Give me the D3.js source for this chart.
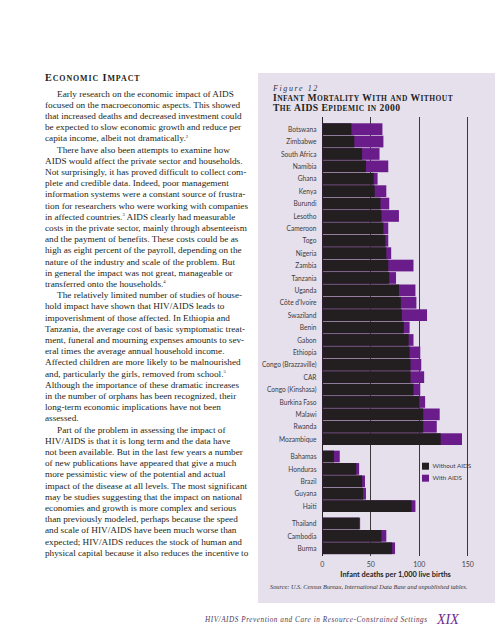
<!DOCTYPE html>
<html><head><meta charset="utf-8">
<script src="https://cdn.jsdelivr.net/npm/d3@7"></script>
<style>html,body{margin:0;padding:0;background:#fff;}svg{display:block;}</style>
</head><body>
<svg id="page" width="495" height="640"></svg>
<script>
// ---------------- DATA ----------------
const countries = ["Botswana","Zimbabwe","South Africa","Namibia","Ghana","Kenya","Burundi","Lesotho",
  "Cameroon","Togo","Nigeria","Zambia","Tanzania","Uganda","Côte d'Ivoire","Swaziland","Benin","Gabon",
  "Ethiopia","Congo (Brazzaville)","CAR","Congo (Kinshasa)","Burkina Faso","Malawi","Rwanda","Mozambique",
  "Bahamas","Honduras","Brazil","Guyana","Haiti",
  "Thailand","Cambodia","Burma"];
const groupSizes = [26, 5, 3];
const withoutAids = [30,33,41,45,53,54,60,61,63,65,66,68,69,79,81,82,84,89,90,91,91,94,100,104,104,122,
  12,35,41,42,92,
  38,61,72];
const withAids = [62,63,59,68,57,66,69,79,68,68,71,94,76,96,97,108,90,94,101,102,105,101,106,121,118,144,
  18,38,44,45,96,
  39,66,75];
const xTicks = [0, 50, 100, 150];
const seriesNames = ["Without AIDS", "With AIDS"];

// ---------------- STYLE ----------------
const C = {ink:"#231f20", purple:"#6a1c8b", panel:"#e6e0ed", grid:"#3a3a3a", label:"#3b3b3b", footer:"#4b3b5e", xix:"#6e2b8f"};
const SERIF = "'Liberation Serif','DejaVu Serif',serif";
const SANS = "Lato,'Liberation Sans','DejaVu Sans',sans-serif";

const svg = d3.select("#page");
svg.append("rect").attr("width",495).attr("height",640).attr("fill","#fff");

function smallCaps(textSel, str, size, ratio) {
  const runs = [];
  for (const ch of str) {
    const low = ch !== ch.toUpperCase();
    if (runs.length && runs[runs.length-1].low === low) runs[runs.length-1].s += ch;
    else runs.push({low, s: ch});
  }
  runs.forEach(r => textSel.append("tspan").attr("font-size", r.low ? size*ratio : size).text(r.low ? r.s.toUpperCase() : r.s));
}

// ---------------- LEFT TEXT COLUMN ----------------
const colX = 45, indent = 12, firstBase = 96.5, lineH = 11.2;
const header = svg.append("text").attr("x", colX).attr("y", 80.7).attr("font-family", SERIF)
  .attr("font-weight","bold").attr("fill", C.ink).attr("letter-spacing", 0.9);
smallCaps(header, "Economic Impact", 10.2, 0.78);

const bodyLines = [
  [1,"Early research on the economic impact of AIDS"],
  [0,"focused on the macroeconomic aspects. This showed"],
  [0,"that increased deaths and decreased investment could"],
  [0,"be expected to slow economic growth and reduce per"],
  [0,"capita income, albeit not dramatically.^2"],
  [1,"There have also been attempts to examine how"],
  [0,"AIDS would affect the private sector and households."],
  [0,"Not surprisingly, it has proved difficult to collect com-"],
  [0,"plete and credible data.  Indeed, poor management"],
  [0,"information systems were a constant source of frustra-"],
  [0,"tion for researchers who were working with companies"],
  [0,"in affected countries.^3 AIDS clearly had measurable"],
  [0,"costs in the private sector, mainly through absenteeism"],
  [0,"and the payment of benefits. These costs could be as"],
  [0,"high as eight percent of the payroll, depending on the"],
  [0,"nature of the industry and scale of the problem. But"],
  [0,"in general the impact was not great, manageable or"],
  [0,"transferred onto the households.^4"],
  [1,"The relatively limited number of studies of house-"],
  [0,"hold impact have shown that HIV/AIDS leads to"],
  [0,"impoverishment of those affected. In Ethiopia and"],
  [0,"Tanzania, the average cost of basic symptomatic treat-"],
  [0,"ment, funeral and mourning expenses amounts to sev-"],
  [0,"eral times the average annual household income."],
  [0,"Affected children are more likely to be malnourished"],
  [0,"and, particularly the girls, removed from school.^5"],
  [0,"Although the importance of these dramatic increases"],
  [0,"in the number of orphans has been recognized, their"],
  [0,"long-term economic implications have not been"],
  [0,"assessed."],
  [1,"Part of the problem in assessing the impact of"],
  [0,"HIV/AIDS is that it is long term and the data have"],
  [0,"not been available. But in the last few years a number"],
  [0,"of new publications have appeared that give a much"],
  [0,"more pessimistic view of the potential and actual"],
  [0,"impact of the disease at all levels. The most significant"],
  [0,"may be studies suggesting that the impact on national"],
  [0,"economies and growth is more complex and serious"],
  [0,"than previously modeled, perhaps because the speed"],
  [0,"and scale of HIV/AIDS have been much worse than"],
  [0,"expected; HIV/AIDS reduces the stock of human and"],
  [0,"physical capital because it also reduces the incentive to"]
];
const probe = svg.append("text").attr("font-family", SERIF).attr("font-size", 10).text("costs in the private sector, mainly through absenteeism");
const bodySize = 10 * 202 / probe.node().getComputedTextLength();
probe.remove();
const body = svg.append("g").attr("font-family", SERIF).attr("font-size", bodySize).attr("fill", C.ink);
bodyLines.forEach(([ind, s], i) => {
  const t = body.append("text").attr("x", colX + (ind ? indent : 0)).attr("y", firstBase + i*lineH);
  let raised = false;
  s.split(/(\^\d)/).forEach(part => {
    if (!part) return;
    if (/^\^\d$/.test(part)) {
      t.append("tspan").attr("font-size", bodySize*0.5).attr("dy", -3.5).text(part.slice(1));
      raised = true;
    } else {
      const sp = t.append("tspan").text(part);
      if (raised) { sp.attr("dy", 3.5); raised = false; }
    }
  });
});

// ---------------- CHART PANEL ----------------
svg.append("rect").attr("x", 258).attr("y", 73).attr("width", 237).attr("height", 530).attr("fill", C.panel);

svg.append("text").attr("x", 273).attr("y", 90.5).attr("font-family", SERIF).attr("font-style","italic")
  .attr("font-size", 8).attr("letter-spacing", 1.6).attr("fill", "#333").text("Figure 12");
const t1 = svg.append("text").attr("x", 273).attr("y", 100.7).attr("font-family", SERIF).attr("font-weight","bold")
  .attr("fill", C.ink).attr("letter-spacing", 0.45);
smallCaps(t1, "Infant Mortality With and Without", 9.6, 0.78);
const t2 = svg.append("text").attr("x", 273).attr("y", 110.7).attr("font-family", SERIF).attr("font-weight","bold")
  .attr("fill", C.ink).attr("letter-spacing", 0.45);
smallCaps(t2, "The AIDS Epidemic in 2000", 9.6, 0.78);

// scales
const x = d3.scaleLinear().domain([0, 150]).range([322.3, 467.8]);
const gapSlots = 0.4;
const groupOf = [];
groupSizes.forEach((n, g) => { for (let k = 0; k < n; k++) groupOf.push(g); });
const slotOf = countries.map((c, i) => i + groupOf[i] * gapSlots);
const totalSlots = countries.length + (groupSizes.length - 1) * gapSlots;
const y = d3.scaleLinear().domain([0, totalSlots]).range([123.3, 123.3 + totalSlots * 12.4]);
const rowH = y(1) - y(0);

const chart = svg.append("g");
chart.append("g").selectAll("line").data(xTicks).join("line")
  .attr("x1", d => x(d)).attr("x2", d => x(d)).attr("y1", 117).attr("y2", 555.5)
  .attr("stroke", d => d === 0 ? C.ink : C.grid).attr("stroke-width", 1).attr("shape-rendering","crispEdges");

const rows = countries.map((c, i) => ({c, a: withAids[i], b: withoutAids[i], s: slotOf[i]}));
chart.append("g").selectAll("rect").data(rows).join("rect")
  .attr("x", x(0)).attr("y", d => y(d.s)).attr("height", rowH - 0.7)
  .attr("width", d => x(d.a) - x(0)).attr("fill", C.purple);
chart.append("g").selectAll("rect").data(rows).join("rect")
  .attr("x", x(0)).attr("y", d => y(d.s)).attr("height", rowH - 0.7)
  .attr("width", d => x(d.b) - x(0)).attr("fill", C.ink);

chart.append("g").attr("font-family", SANS).attr("font-size", 6.6).attr("fill", C.label).attr("text-anchor","end")
  .selectAll("text").data(rows).join("text")
  .attr("x", 316.5).attr("y", d => y(d.s) + rowH/2).attr("dy", "0.35em").text(d => d.c);

chart.append("g").attr("font-family", SANS).attr("font-size", 7).attr("fill", "#444").attr("text-anchor","middle")
  .selectAll("text").data(xTicks).join("text")
  .attr("x", d => x(d)).attr("y", 564.5).attr("dy","0.35em").text(d => d);
chart.append("text").attr("x", (x(0)+x(150))/2 + 0.5).attr("y", 574.5).attr("dy","0.35em").attr("text-anchor","middle")
  .attr("font-family", SANS).attr("font-weight","bold").attr("font-size", 7.4).attr("fill", C.ink)
  .text("Infant deaths per 1,000 live births");
chart.append("text").attr("x", 270).attr("y", 587).attr("dy","0.35em")
  .attr("font-family", SERIF).attr("font-style","italic").attr("font-size", 6.3).attr("fill", "#333")
  .text("Source: U.S. Census Bureau, International Data Base and unpublished tables.");

const legend = chart.append("g").selectAll("g").data(seriesNames).join("g")
  .attr("transform", (d, i) => `translate(422,${462.7 + i*12})`);
legend.append("rect").attr("width", 7).attr("height", 7).attr("fill", (d, i) => i === 0 ? C.ink : C.purple);
legend.append("text").attr("x", 10.5).attr("y", 3.5).attr("dy","0.35em").attr("font-family", SANS)
  .attr("font-size", 6.3).attr("fill", C.label).text(d => d);

// footer
svg.append("text").attr("x", 205).attr("y", 621.5).attr("font-family", SERIF).attr("font-style","italic")
  .attr("font-size", 7.2).attr("fill", C.footer)
  .attr("textLength", 222).attr("lengthAdjust", "spacing")
  .text("HIV/AIDS Prevention and Care in Resource-Constrained Settings");
svg.append("text").attr("x", 437).attr("y", 623.5).attr("font-family", SERIF).attr("font-style","italic")
  .attr("font-size", 14).attr("fill", C.xix).text("XIX");
</script>
</body></html>
